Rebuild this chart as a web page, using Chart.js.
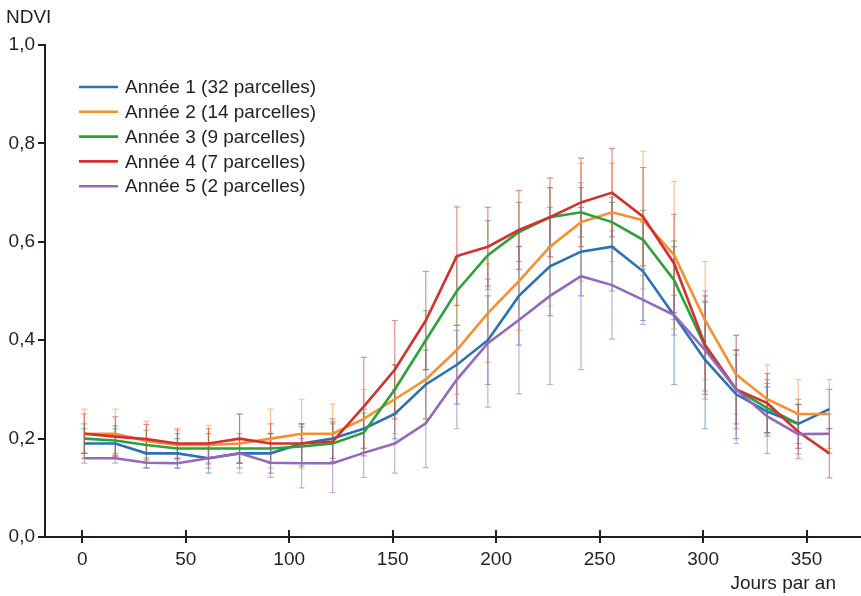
<!DOCTYPE html>
<html>
<head>
<meta charset="utf-8">
<script src="https://cdn.jsdelivr.net/npm/chart.js@4.4.1/dist/chart.umd.min.js"></script>
<style>
  html, body { margin: 0; padding: 0; background: #fff; }
  #wrap { width: 861px; height: 596px; position: relative; }
</style>
</head>
<body>
<div id="wrap"><canvas id="c"></canvas></div>
<script>
// ---- data ----
const days = [1,16,31,46,61,76,91,106,121,136,151,166,181,196,211,226,241,256,271,286,301,316,331,346,361];
const seriesLabels = ['Année 1 (32 parcelles)','Année 2 (14 parcelles)','Année 3 (9 parcelles)','Année 4 (7 parcelles)','Année 5 (2 parcelles)'];
const ndvi1 = [0.19,0.19,0.17,0.17,0.16,0.17,0.17,0.19,0.20,0.22,0.25,0.31,0.35,0.40,0.49,0.55,0.58,0.59,0.54,0.45,0.36,0.29,0.255,0.23,0.26];
const ndvi2 = [0.21,0.21,0.195,0.187,0.187,0.19,0.20,0.21,0.21,0.24,0.28,0.32,0.38,0.455,0.52,0.59,0.64,0.66,0.644,0.573,0.44,0.33,0.28,0.25,0.25];
const ndvi3 = [0.20,0.196,0.187,0.18,0.18,0.18,0.18,0.184,0.19,0.212,0.30,0.40,0.50,0.573,0.62,0.65,0.66,0.64,0.604,0.522,0.387,0.30,0.262,0.23,null];
const ndvi4 = [0.21,0.204,0.199,0.19,0.19,0.20,0.19,0.19,0.194,0.265,0.34,0.44,0.571,0.59,0.624,0.65,0.68,0.70,0.651,0.556,0.39,0.30,0.272,0.214,0.17];
const ndvi5 = [0.16,0.16,0.151,0.15,0.16,0.17,0.151,0.15,0.15,0.171,0.19,0.231,0.32,0.394,0.441,0.49,0.53,0.512,0.482,0.451,0.38,0.30,0.245,0.209,0.21];
const err1 = [0.03,0.03,0.03,0.03,0.03,0.03,0.04,0.04,0.04,0.04,0.05,0.07,0.08,0.09,0.10,0.10,0.09,0.09,0.10,0.14,0.14,0.09,0.05,0.05,0.04];
const err2 = [0.05,0.05,0.04,0.03,0.04,0.06,0.06,0.07,0.06,0.06,0.07,0.08,0.09,0.10,0.10,0.12,0.12,0.10,0.14,0.15,0.12,0.08,0.07,0.07,0.07];
const err3 = [0.03,0.03,0.03,0.03,0.03,0.03,0.03,0.04,0.04,0.04,0.05,0.06,0.07,0.07,0.06,0.06,0.05,0.05,0.06,0.08,0.09,0.07,0.05,0.04,null];
const err4 = [0.04,0.04,0.03,0.03,0.03,0.05,0.04,0.04,0.04,0.10,0.10,0.10,0.10,0.08,0.08,0.08,0.09,0.09,0.10,0.10,0.10,0.08,0.06,0.055,0.05];
const err5 = [0.01,0.01,0.01,0.01,0.02,0.02,0.03,0.05,0.06,0.05,0.06,0.09,0.10,0.13,0.15,0.18,0.19,0.11,0.05,0.04,0.10,0.11,0.075,0.04,0.04];
const xTicks = [0,50,100,150,200,250,300,350];
const yTicks = [0,0.2,0.4,0.6,0.8,1.0];
const yTickLabels = ['0,0','0,2','0,4','0,6','0,8','1,0'];
const xTitle = 'Jours par an';
const yTitle = 'NDVI';

// ---- styles ----
const colors = ['#2a72b3','#f7902c','#2ca03a','#d2312f','#9468bd'];
const errColors = ['rgba(42,114,179,0.55)','rgba(247,144,44,0.55)','rgba(44,160,58,0.55)','rgba(210,49,47,0.55)','rgba(148,104,189,0.55)'];
const allValues = [ndvi1, ndvi2, ndvi3, ndvi4, ndvi5];
const allErrs = [err1, err2, err3, err4, err5];
const FONT = '"Liberation Sans", Arial, Helvetica, sans-serif';
const FS = 19;
const INK = '#231f20';

const datasets = allValues.map((vals, i) => ({
  label: seriesLabels[i],
  data: days.map((d, k) => ({ x: d, y: vals[k] })),
  borderColor: colors[i],
  backgroundColor: colors[i],
  borderWidth: 2.6,
  pointRadius: 0,
  tension: 0,
  fill: false,
  spanGaps: false,
  order: 4 - i,
  errs: allErrs[i],
  errColor: errColors[i]
}));

const errorBars = {
  id: 'errorBars',
  beforeDatasetsDraw(chart) {
    const ctx = chart.ctx, xs = chart.scales.x, ys = chart.scales.y;
    ctx.save();
    ctx.lineWidth = 1.2;
    chart.data.datasets.forEach((ds) => {
      ctx.strokeStyle = ds.errColor;
      ds.data.forEach((p, k) => {
        const e = ds.errs[k];
        if (p.y == null || e == null) return;
        const px = xs.getPixelForValue(p.x);
        const top = ys.getPixelForValue(p.y + e);
        const bot = ys.getPixelForValue(p.y - e);
        ctx.beginPath();
        ctx.moveTo(px, top); ctx.lineTo(px, bot);
        ctx.moveTo(px - 3, top); ctx.lineTo(px + 3, top);
        ctx.moveTo(px - 3, bot); ctx.lineTo(px + 3, bot);
        ctx.stroke();
      });
    });
    ctx.restore();
  }
};

const decorations = {
  id: 'decorations',
  afterDraw(chart) {
    const ctx = chart.ctx, xs = chart.scales.x;
    const area = chart.chartArea;
    ctx.save();
    // inner half of x ticks
    ctx.strokeStyle = INK;
    ctx.lineWidth = 2;
    xTicks.forEach(v => {
      const px = Math.round(xs.getPixelForValue(v));
      ctx.beginPath();
      ctx.moveTo(px, area.bottom);
      ctx.lineTo(px, area.bottom - 7);
      ctx.stroke();
    });
    // titles
    ctx.fillStyle = INK;
    ctx.font = FS + 'px ' + FONT;
    ctx.textBaseline = 'middle';
    ctx.textAlign = 'left';
    ctx.fillText(yTitle, 6, 18);
    ctx.textAlign = 'right';
    ctx.fillText(xTitle, 836, 584);
    // legend
    ctx.textAlign = 'left';
    chart.data.datasets.forEach((ds, i) => {
      const y = 87 + i * 24.8;
      ctx.strokeStyle = ds.borderColor;
      ctx.lineWidth = 2.6;
      ctx.beginPath();
      ctx.moveTo(79, y);
      ctx.lineTo(118, y);
      ctx.stroke();
      ctx.fillStyle = INK;
      ctx.fillText(ds.label, 125, y + 1);
    });
    ctx.restore();
  }
};

new Chart(document.getElementById('c'), {
  type: 'line',
  data: { datasets },
  options: {
    responsive: true,
    maintainAspectRatio: false,
    animation: false,
    layout: { padding: { top: 45, left: 0, right: 0, bottom: 0 } },
    plugins: {
      legend: { display: false },
      tooltip: { enabled: false }
    },
    scales: {
      x: {
        type: 'linear',
        min: -18,
        max: 376.3,
        afterBuildTicks(scale) { scale.ticks = xTicks.map(v => ({ value: v })); },
        afterFit(scale) { scale.height = 59; },
        grid: { display: true, drawOnChartArea: false, drawTicks: true, tickLength: 6, color: INK, lineWidth: 2 },
        border: { display: true, color: INK, width: 2 },
        ticks: { color: INK, font: { family: FONT, size: FS }, padding: 5, maxRotation: 0,
                 callback: (v) => String(v) }
      },
      y: {
        type: 'linear',
        min: 0,
        max: 1,
        afterBuildTicks(scale) { scale.ticks = yTicks.map(v => ({ value: v })); },
        afterFit(scale) { scale.width = 45; },
        grid: { display: true, drawOnChartArea: false, drawTicks: true, tickLength: 7, color: INK, lineWidth: 2 },
        border: { display: true, color: INK, width: 2 },
        ticks: { color: INK, font: { family: FONT, size: FS }, padding: 3,
                 callback: (v) => { const i = yTicks.indexOf(v); return i >= 0 ? yTickLabels[i] : ''; } }
      }
    }
  },
  plugins: [errorBars, decorations]
});
</script>
</body>
</html>
